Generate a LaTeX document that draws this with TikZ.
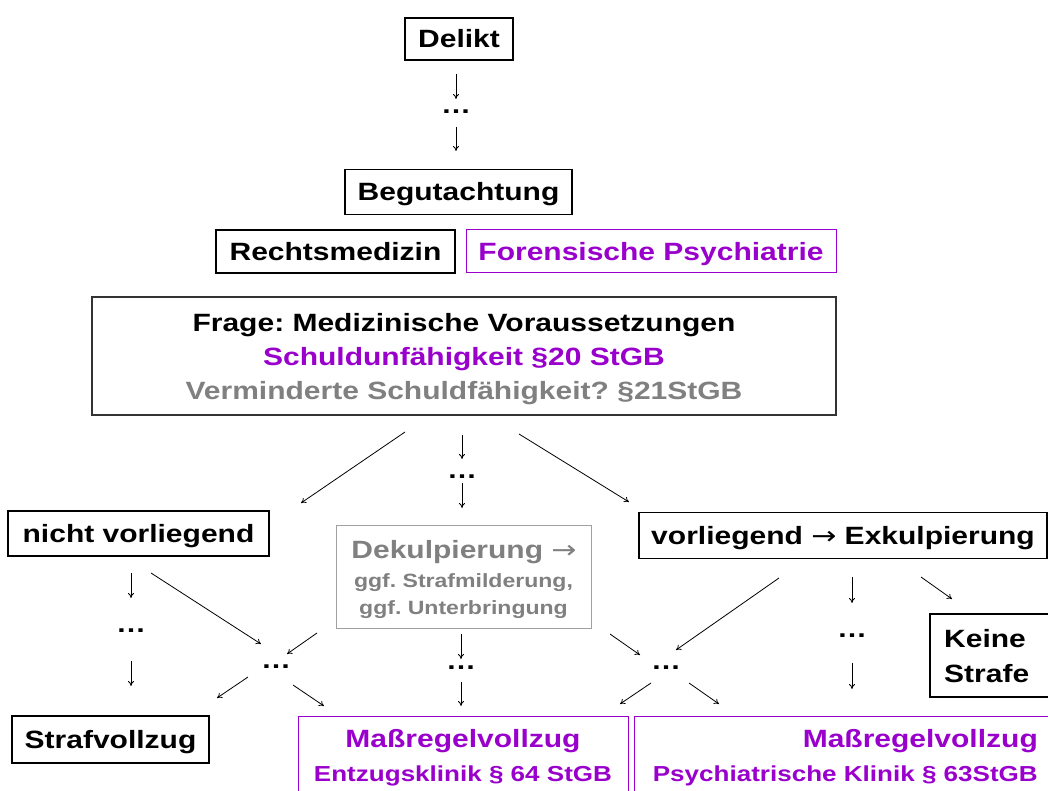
\documentclass[tikz,border=0pt]{standalone}
\usepackage{fontspec}
\setmainfont{Liberation Sans}[FakeStretch=1.2]
\newfontfamily\arrfont{DejaVu Sans}[FakeStretch=1.2]
\usetikzlibrary{arrows.meta}
\definecolor{lila}{RGB}{153,0,204}
\definecolor{grau}{RGB}{128,128,128}
\definecolor{graurand}{RGB}{160,160,160}
\newcommand{\fbig}{\fontsize{25}{33.5}\selectfont\bfseries\frenchspacing}
\newcommand{\fsml}{\fontsize{19.2}{27}\selectfont\bfseries\frenchspacing}
\newcommand{\fmid}{\fontsize{21.7}{32}\selectfont\bfseries\frenchspacing}
\newcommand{\rarr}{{\arrfont\mdseries\char"2192}}
\begin{document}
\begin{tikzpicture}[x=1pt,y=-1pt,
  box/.style={draw, line width=1.3pt, inner sep=0pt, font=\fbig, text height=18pt, text depth=0pt},
  pbox/.style={box, draw=lila, text=lila, line width=1pt},
  txt/.style={inner sep=0pt, anchor=base, font=\fbig},
  dots/.style={inner sep=0pt, font=\fbig, anchor=base},
  arr/.style={-{To[length=5pt,width=6pt]}, line width=0.8pt}]
\useasboundingbox (0,0) rectangle (1048,791);
\clip (0,0) rectangle (1048,791);
% single-line boxes
\node[box, minimum width=108, minimum height=42] (delikt) at (459,39) {Delikt};
\node[box, minimum width=227, minimum height=45] (begut) at (458.5,192) {Begutachtung};
\node[box, minimum width=239, minimum height=43] (rechts) at (335.5,251.5) {Rechtsmedizin};
\node[pbox, minimum width=370, minimum height=43] (foren) at (651,251.5) {Forensische Psychiatrie};
\node[box, minimum width=261, minimum height=45] (nicht) at (138.5,533.5) {nicht vorliegend};
\node[box, minimum width=408, minimum height=46] (vorl) at (843,535.5) {vorliegend \rarr{} Exkulpierung};
\node[box, minimum width=197, minimum height=47] (straf) at (110.5,739.5) {Strafvollzug};
% multi-line boxes
\node[box, draw=black!80, minimum width=744, minimum height=118] (frage) at (464,356) {};
\node[txt] (frage1) at (464,331) {Frage: Medizinische Voraussetzungen};
\node[txt, text=lila] (frage2) at (464,365) {Schuldunfähigkeit §20 StGB};
\node[txt, text=grau] (frage3) at (464,399) {Verminderte Schuldfähigkeit? §21StGB};

\node[box, line width=1pt, draw=graurand, minimum width=255, minimum height=103] (dekul) at (463.5,576.5) {};
\node[txt, text=grau] (dekul1) at (464,558) {Dekulpierung \rarr};
\node[txt, text=grau, font=\fsml] (dekul2) at (463.5,587) {ggf. Strafmilderung,};
\node[txt, text=grau, font=\fsml] (dekul3) at (463.5,614) {ggf. Unterbringung};

\node[box, minimum width=130, minimum height=83] (keine) at (995,655.5) {};
\node[txt, anchor=base west] (keine1) at (944,647) {Keine};
\node[txt, anchor=base west] (keine2) at (944,682) {Strafe};

\node[pbox, minimum width=330, minimum height=85] (mass1) at (463,758.5) {};
\node[txt, text=lila] (mass1a) at (463,747) {Maßregelvollzug};
\node[txt, text=lila, font=\fmid] (mass1b) at (463,781) {Entzugsklinik § 64 StGB};

\node[pbox, minimum width=426, minimum height=85] (mass2) at (847,758.5) {};
\node[txt, text=lila, anchor=base east] (mass2a) at (1038,747) {Maßregelvollzug};
\node[txt, text=lila, font=\fmid, anchor=base east] (mass2b) at (1038,781) {Psychiatrische Klinik § 63StGB};
% dots
\node[dots] (d1) at (456,114) {…};
\node[dots] (d2) at (462,478) {…};
\node[dots] (d3) at (131,632) {…};
\node[dots] (d4) at (276,668) {…};
\node[dots] (d5) at (461,669) {…};
\node[dots] (d6) at (666,669) {…};
\node[dots] (d7) at (852,637) {…};
% arrow end points
\coordinate (s1) at (456,74);  \coordinate (e1) at (456,99);
\coordinate (s2) at (456,127); \coordinate (e2) at (456,151);
\coordinate (s3) at (405,432); \coordinate (e3) at (301,503);
\coordinate (s4) at (462,435); \coordinate (e4) at (462,459);
\coordinate (s5) at (462,483); \coordinate (e5) at (462,508);
\coordinate (s6) at (519,434); \coordinate (e6) at (629,502);
\coordinate (s7) at (131,573); \coordinate (e7) at (131,598);
\coordinate (s8) at (131,661); \coordinate (e8) at (131,686);
\coordinate (s9) at (151,573); \coordinate (e9) at (261,644);
\coordinate (s10) at (317,633); \coordinate (e10) at (287,654);
\coordinate (s11) at (248,677); \coordinate (e11) at (217,698);
\coordinate (s12) at (293,685); \coordinate (e12) at (324,706);
\coordinate (s13) at (461,634); \coordinate (e13) at (461,659);
\coordinate (s14) at (461,682); \coordinate (e14) at (461,706);
\coordinate (s15) at (610,634); \coordinate (e15) at (640,655);
\coordinate (s16) at (779,578); \coordinate (e16) at (676,650);
\coordinate (s17) at (651,683); \coordinate (e17) at (620,704);
\coordinate (s18) at (689,683); \coordinate (e18) at (719,704);
\coordinate (s19) at (852,577); \coordinate (e19) at (852,603);
\coordinate (s20) at (852,663); \coordinate (e20) at (852,689);
\coordinate (s21) at (921,577); \coordinate (e21) at (952,599);
\foreach \i in {1,...,21} \draw[arr] (s\i) -- (e\i);
\end{tikzpicture}
\end{document}
